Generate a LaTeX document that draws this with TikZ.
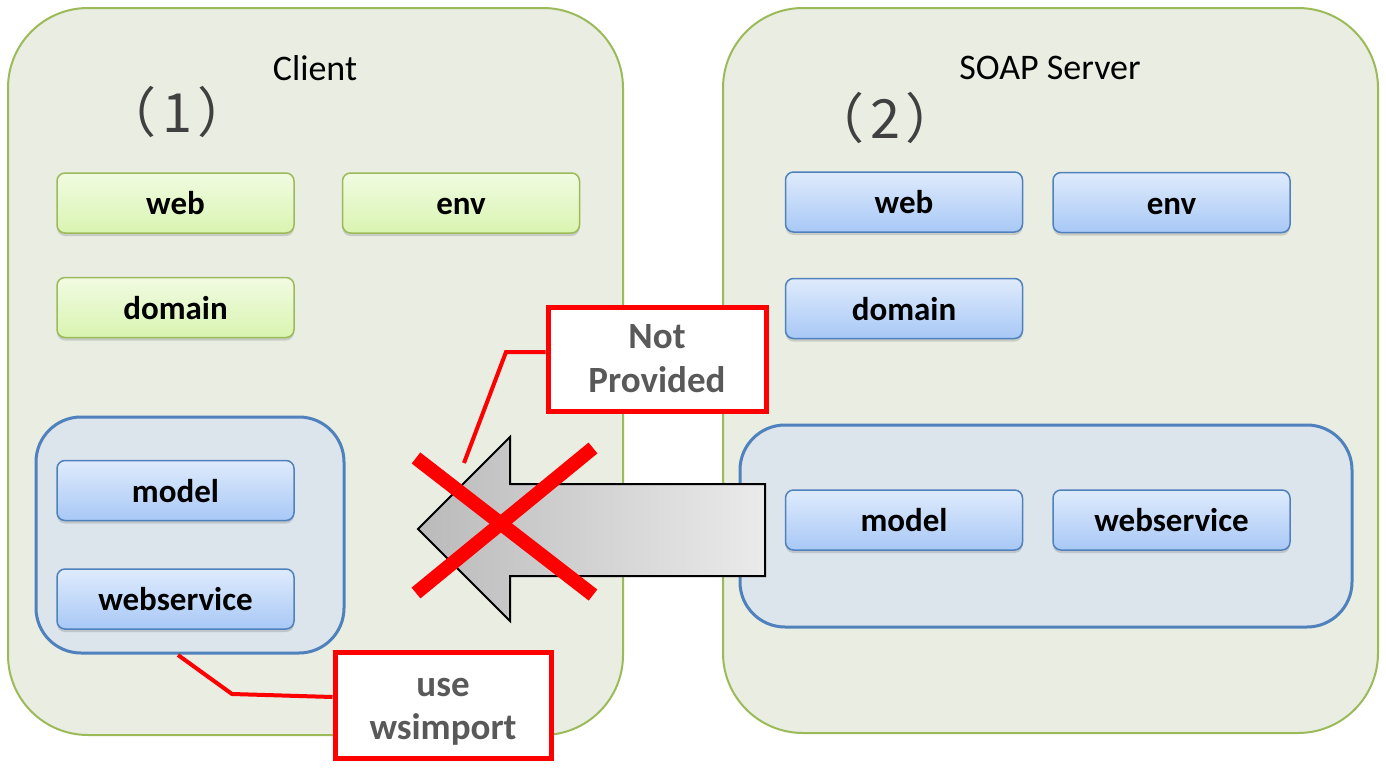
\documentclass[tikz,border=0pt]{standalone}
\usepackage{fontspec}
\setmainfont{Carlito}
\newfontfamily\cjkfont{Noto Sans CJK JP}
\usetikzlibrary{shadows,calc}
\definecolor{outerfill}{RGB}{233,237,226}
\definecolor{greenbd}{RGB}{155,187,89}
\definecolor{bluebd}{RGB}{79,129,189}
\definecolor{groupfill}{RGB}{220,228,236}
\definecolor{gtop}{RGB}{241,251,226}
\definecolor{gbot}{RGB}{217,244,176}
\definecolor{btop}{RGB}{223,235,252}
\definecolor{bbot}{RGB}{168,200,246}
\definecolor{calltext}{RGB}{89,89,89}
\definecolor{redx}{RGB}{255,0,0}
\definecolor{numtext}{RGB}{64,64,64}
\tikzset{
  panel/.style={draw=greenbd, line width=2pt, fill=outerfill, rounded corners=80pt, inner sep=0pt},
  group/.style={draw=bluebd, line width=3pt, fill=groupfill, rounded corners=45pt, inner sep=0pt},
  box/.style={minimum width=237pt, minimum height=60pt, inner sep=0pt, rounded corners=8pt, line width=1.5pt,
    font=\fontsize{33}{36}\selectfont\bfseries, text=black, text height=23pt, text depth=0pt,
    drop shadow={opacity=0.3, shadow xshift=0pt, shadow yshift=-3pt}},
  gbox/.style={box, draw=greenbd, top color=gtop, bottom color=gbot},
  bbox/.style={box, draw=bluebd, top color=btop, bottom color=bbot},
  title/.style={font=\fontsize{36}{40}\selectfont, text=black},
  num/.style={font=\cjkfont\fontsize{54}{58}\selectfont, text=numtext},
  callbox/.style={draw=redx, line width=5pt, fill=white, inner sep=0pt, align=center,
    font=\fontsize{37}{44}\selectfont\bfseries, text=calltext},
  calltxt/.style={inner sep=0pt, align=center, font=\fontsize{37}{43}\selectfont\bfseries, text=calltext},
  callline/.style={draw=redx, line width=4pt},
  xline/.style={draw=redx, line width=14pt},
  bigarrow/.style={draw=black, line width=2pt, left color=black!27, right color=black!8}
}
\begin{document}
\begin{tikzpicture}[x=1pt,y=-1pt]
\useasboundingbox (0,0) rectangle (1386,771);
% panels
\node[panel, minimum width=615pt, minimum height=727pt] (client) at (315.5,371.5) {};
\node[panel, minimum width=655pt, minimum height=725pt] (server) at (1050.5,370.5) {};
\node[title] (clientt) at (315,68) {Client};
\node[title] (servert) at (1050,68) {SOAP Server};
\node[num] (n1) at (177,112) {（\hspace{6pt}1\hspace{6pt}）};
\node[num] (n2) at (885,118) {（\hspace{6pt}2\hspace{6pt}）};
% client boxes
\node[gbox] (cweb) at (175.5,203) {web};
\node[gbox] (cenv) at (461,203) {env};
\node[gbox] (cdom) at (175.5,307.5) {domain};
\node[group, minimum width=308pt, minimum height=236pt] (cgroup) at (190,535) {};
\node[bbox] (cmodel) at (175.5,490.5) {model};
\node[bbox] (cws) at (175.5,599) {webservice};
% server boxes
\node[bbox] (sweb) at (904,202) {web};
\node[bbox] (senv) at (1171.5,202.5) {env};
\node[bbox] (sdom) at (904,308.5) {domain};
\node[group, minimum width=612pt, minimum height=202pt] (sgroup) at (1046,526) {};
\node[bbox] (smodel) at (904,520) {model};
\node[bbox] (sws) at (1171.5,520) {webservice};
% big arrow
\path[bigarrow] (765,484) -- (510,484) -- (510,437) -- (418,529) -- (510,621) -- (510,576) -- (765,576) -- cycle;
% red X
\draw[xline] (416,458) -- (593,595);
\draw[xline] (416,593) -- (593,448);
% callouts
\node[callbox, minimum width=218pt, minimum height=104pt] (np) at (657,359) {Not\\Provided};
\node[callbox, minimum width=216pt, minimum height=106pt] (uw) at (443,705) {};
\node[calltxt] (uwt) at (443,712) {use\\wsimport};
\coordinate (npstart) at (464,463);
\coordinate (npbend) at (506,352);
\draw[callline] (npstart) -- (npbend) -- ($(np.west)+(0,-7)$);
\coordinate (uwstart) at (178,655);
\coordinate (uwbend) at (232,694);
\draw[callline] (uwstart) -- (uwbend) -- ($(uw.west)+(0,-8)$);
\end{tikzpicture}
\end{document}
